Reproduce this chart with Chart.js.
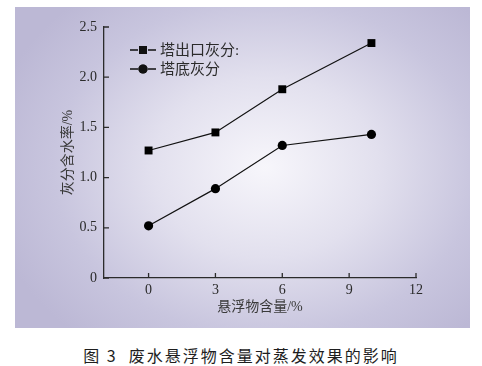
<!DOCTYPE html>
<html>
<head>
<meta charset="utf-8">
<script src="https://cdn.jsdelivr.net/npm/chart.js@4"></script>
<style>
  body { margin: 0; background: #fff; width: 482px; height: 366px; position: relative; overflow: hidden; }
  #panel {
    position: absolute; left: 15px; top: 7px; width: 455px; height: 321px;
    background: radial-gradient(ellipse 62% 70% at 55% 50%, #f7f6fb 0%, #e2e0ee 40%, #c8c5de 75%, #bcb8d5 100%);
  }
  #caption {
    position: absolute; left: 0; top: 343px; width: 482px; text-align: center;
    font-family: "Noto Sans CJK SC", sans-serif; font-size: 16px; font-weight: 400;
    letter-spacing: 2px; color: #1e1e1e;
  }
</style>
</head>
<body>
<div id="panel"><canvas id="chart" width="455" height="321"></canvas></div>
<div id="caption">图 3&nbsp; 废水悬浮物含量对蒸发效果的影响</div>
<script>
// data
const xValues = [0, 3, 6, 10];
const outletAsh = [1.27, 1.45, 1.88, 2.34];
const bottomAsh = [0.52, 0.89, 1.32, 1.43];
const seriesNames = ['塔出口灰分:', '塔底灰分'];
const xTicks = [0, 3, 6, 9, 12];
const yTicks = [0, 0.5, 1.0, 1.5, 2.0, 2.5];

const serif = "'Liberation Serif', 'Noto Sans CJK SC', serif";
const ink = '#2b2b2b';

const toPoints = (ys) => xValues.map((x, i) => ({ x: x, y: ys[i] }));

// ticks point inward, so draw them by hand from the scales
const innerTicks = {
    id: 'innerTicks',
    afterDraw(chart) {
        const { ctx, chartArea, scales } = chart;
        ctx.save();
        ctx.strokeStyle = ink;
        ctx.lineWidth = 1.3;
        ctx.beginPath();
        xTicks.forEach(v => {
            const px = scales.x.getPixelForValue(v);
            ctx.moveTo(px, chartArea.bottom);
            ctx.lineTo(px, chartArea.bottom - 5);
        });
        yTicks.forEach(v => {
            const py = scales.y.getPixelForValue(v);
            ctx.moveTo(chartArea.left, py);
            ctx.lineTo(chartArea.left + 5, py);
        });
        ctx.stroke();
        ctx.restore();
    }
};

// legend inside the plot: dash, marker, dash, text
const innerLegend = {
    id: 'innerLegend',
    afterDraw(chart) {
        const { ctx } = chart;
        ctx.save();
        chart.data.datasets.forEach((ds, i) => {
            const y = 43 + i * 19;
            ctx.strokeStyle = '#111';
            ctx.lineWidth = 1.3;
            ctx.beginPath();
            ctx.moveTo(115, y);
            ctx.lineTo(123, y);
            ctx.moveTo(133, y);
            ctx.lineTo(141, y);
            ctx.stroke();
            Chart.helpers.drawPoint(ctx, {
                pointStyle: ds.pointStyle, radius: ds.pointRadius, borderWidth: 0
            }, 128, y);
            ctx.fillStyle = '#111';
            ctx.fill();
            ctx.fillStyle = ink;
            ctx.font = "15px " + serif;
            ctx.textBaseline = 'middle';
            ctx.fillText(ds.label, 145, y + 1);
        });
        ctx.restore();
    }
};

new Chart(document.getElementById('chart'), {
    type: 'scatter',
    data: {
        datasets: [{
            label: seriesNames[0],
            data: toPoints(outletAsh),
            showLine: true,
            borderColor: '#111',
            borderWidth: 1.2,
            pointStyle: 'rect',
            pointRadius: 5.6,
            pointBackgroundColor: '#000',
            pointBorderWidth: 0
        }, {
            label: seriesNames[1],
            data: toPoints(bottomAsh),
            showLine: true,
            borderColor: '#111',
            borderWidth: 1.2,
            pointStyle: 'circle',
            pointRadius: 4.6,
            pointBackgroundColor: '#000',
            pointBorderWidth: 0
        }]
    },
    options: {
        responsive: false,
        animation: false,
        layout: { padding: { top: 20, right: 54, left: 0, bottom: 0 } },
        plugins: { legend: { display: false }, tooltip: { enabled: false } },
        scales: {
            x: {
                type: 'linear',
                min: -2,
                max: 12,
                afterBuildTicks: (s) => { s.ticks = xTicks.map(v => ({ value: v })); },
                afterFit: (s) => { s.height = 50; },
                grid: { display: true, drawOnChartArea: false, drawTicks: false, color: 'rgba(0,0,0,0)' },
                border: { display: true, color: ink, width: 1.3 },
                ticks: { color: ink, padding: 4, maxRotation: 0, font: { family: serif, size: 14 } },
                title: {
                    display: true, text: '悬浮物含量/%', color: '#3a3a3a',
                    font: { family: serif, size: 14 }, padding: { top: 0, bottom: 12 }
                }
            },
            y: {
                min: 0,
                max: 2.5,
                afterBuildTicks: (s) => { s.ticks = yTicks.map(v => ({ value: v })); },
                afterFit: (s) => { s.width = 89; },
                grid: { display: true, drawOnChartArea: false, drawTicks: false, color: 'rgba(0,0,0,0)' },
                border: { display: true, color: ink, width: 1.3 },
                ticks: {
                    color: ink, padding: 7, font: { family: serif, size: 14 },
                    callback: (v) => v === 0 ? '0' : v.toFixed(1)
                },
                title: {
                    display: true, text: '灰分含水率/%', color: '#3a3a3a',
                    font: { family: serif, size: 14 }, padding: { top: 45, bottom: 0 }
                }
            }
        }
    },
    plugins: [innerTicks, innerLegend]
});
</script>
</body>
</html>
